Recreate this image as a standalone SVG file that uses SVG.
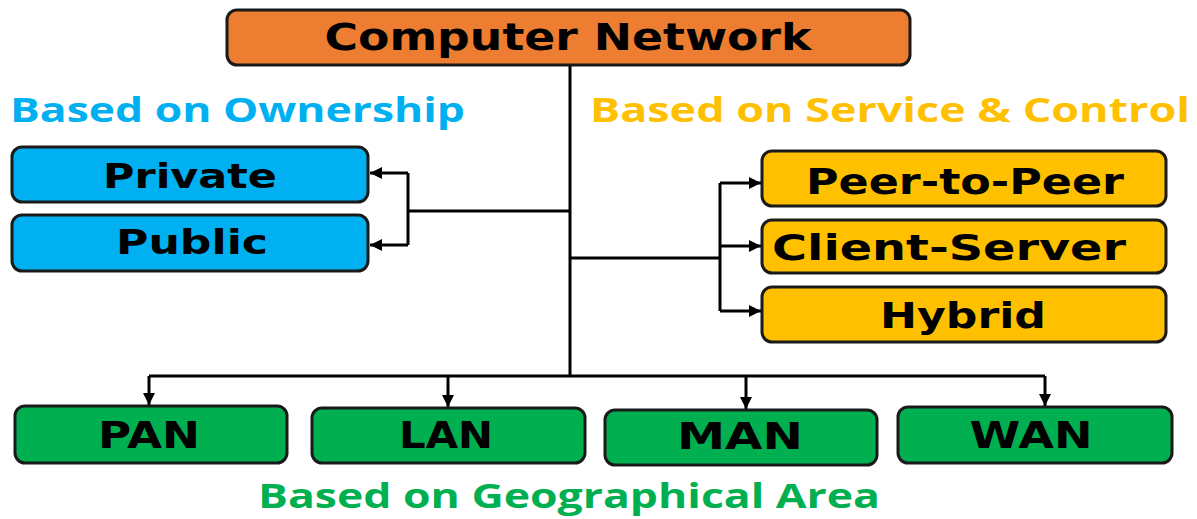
<svg xmlns="http://www.w3.org/2000/svg" width="1197" height="519" viewBox="0 0 1197 519">
<defs>
<style>
.box{stroke:#1a1a1a;stroke-width:3}
.t{font-family:"DejaVu Sans","Open Sans",sans-serif;font-weight:bold;fill:#000;text-anchor:middle}
.h{font-family:"Open Sans","DejaVu Sans",sans-serif;font-weight:bold;font-size:34px}
.c{fill:none;stroke:#000;stroke-width:3}
</style>
<marker id="ah" viewBox="0 0 10 10" refX="10" refY="5" markerWidth="4" markerHeight="4" orient="auto" markerUnits="strokeWidth">
<path d="M0,0 L10,5 L0,10 z" fill="#000"/>
</marker>
</defs>
<rect width="1197" height="519" fill="#fff"/>
<g id="connectors">
<path class="c" d="M570,65 V376"/>
<path class="c" d="M570,211 H408"/>
<path class="c" d="M408,173 V245"/>
<path class="c" d="M408,173 H370" marker-end="url(#ah)"/>
<path class="c" d="M408,245 H370" marker-end="url(#ah)"/>
<path class="c" d="M570,258 H720"/>
<path class="c" d="M720,183 V311"/>
<path class="c" d="M720,183 H761" marker-end="url(#ah)"/>
<path class="c" d="M720,246 H761" marker-end="url(#ah)"/>
<path class="c" d="M720,311 H761" marker-end="url(#ah)"/>
<path class="c" d="M149,376 H1045"/>
<path class="c" d="M149,376 V405" marker-end="url(#ah)"/>
<path class="c" d="M448,376 V407" marker-end="url(#ah)"/>
<path class="c" d="M746,376 V409" marker-end="url(#ah)"/>
<path class="c" d="M1045,376 V406" marker-end="url(#ah)"/>
</g>
<g id="root">
<rect class="box" x="227" y="10" width="683" height="55" rx="10" fill="#ed7d31"/>
<text class="t" x="568" y="50" font-size="38" textLength="487" lengthAdjust="spacingAndGlyphs">Computer Network</text>
</g>
<g id="label-ownership">
<text class="h" x="10" y="122" fill="#00b0f0" textLength="455" lengthAdjust="spacingAndGlyphs">Based on Ownership</text>
</g>
<g id="label-service">
<text class="h" x="590" y="122" fill="#ffc000" textLength="600" lengthAdjust="spacingAndGlyphs">Based on Service &amp; Control</text>
</g>
<g id="label-geo">
<text class="h" x="258" y="508" fill="#00b050" textLength="622" lengthAdjust="spacingAndGlyphs">Based on Geographical Area</text>
</g>
<g id="private">
<rect class="box" x="12" y="147" width="356" height="55" rx="10" fill="#00b0f0"/>
<text class="t" x="190" y="188" font-size="33" textLength="174" lengthAdjust="spacingAndGlyphs">Private</text>
</g>
<g id="public">
<rect class="box" x="12" y="215" width="356" height="56" rx="10" fill="#00b0f0"/>
<text class="t" x="192" y="254" font-size="33" textLength="152" lengthAdjust="spacingAndGlyphs">Public</text>
</g>
<g id="peer">
<rect class="box" x="762" y="151" width="404" height="55" rx="10" fill="#ffc000"/>
<text class="t" x="965" y="194" font-size="36" textLength="318" lengthAdjust="spacingAndGlyphs">Peer-to-Peer</text>
</g>
<g id="client-server">
<rect class="box" x="762" y="220" width="404" height="53" rx="10" fill="#ffc000"/>
<text class="t" x="949" y="260" font-size="36" textLength="354" lengthAdjust="spacingAndGlyphs">Client-Server</text>
</g>
<g id="hybrid">
<rect class="box" x="762" y="287" width="404" height="55" rx="10" fill="#ffc000"/>
<text class="t" x="963" y="328" font-size="36" textLength="166" lengthAdjust="spacingAndGlyphs">Hybrid</text>
</g>
<g id="pan">
<rect class="box" x="15" y="406" width="272" height="57" rx="10" fill="#00b050"/>
<text class="t" x="149" y="448" font-size="37" textLength="102" lengthAdjust="spacingAndGlyphs">PAN</text>
</g>
<g id="lan">
<rect class="box" x="312" y="408" width="273" height="55" rx="10" fill="#00b050"/>
<text class="t" x="446" y="448" font-size="37" textLength="94" lengthAdjust="spacingAndGlyphs">LAN</text>
</g>
<g id="man">
<rect class="box" x="605" y="410" width="272" height="55" rx="10" fill="#00b050"/>
<text class="t" x="740" y="449" font-size="37" textLength="126" lengthAdjust="spacingAndGlyphs">MAN</text>
</g>
<g id="wan">
<rect class="box" x="898" y="407" width="274" height="56" rx="10" fill="#00b050"/>
<text class="t" x="1031" y="448" font-size="37" textLength="123" lengthAdjust="spacingAndGlyphs">WAN</text>
</g>
</svg>
